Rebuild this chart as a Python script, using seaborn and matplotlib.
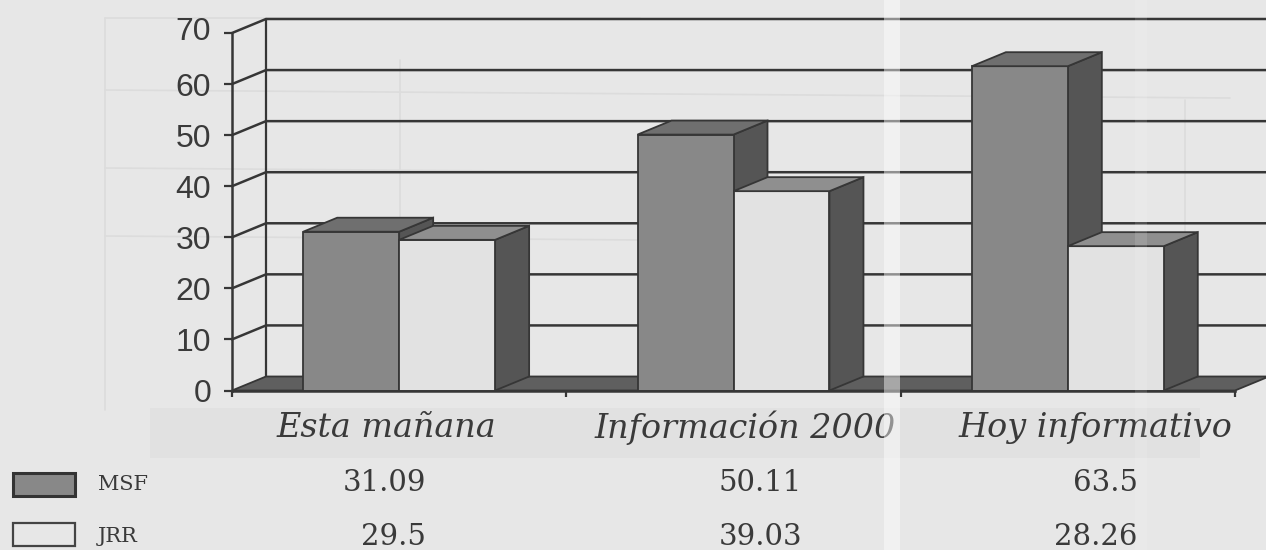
import pandas as pd
import seaborn as sns
import matplotlib
matplotlib.use('Agg')
import matplotlib.pyplot as plt
from matplotlib.patches import Polygon, Rectangle
from matplotlib.lines import Line2D
from matplotlib.transforms import Affine2D, ScaledTranslation

# datos de la tabla
programas = ['Esta mañana', 'Información 2000', 'Hoy informativo']
msf = [31.09, 50.11, 63.5]
jrr = [29.5, 39.03, 28.26]
msf_txt = ['31.09', '50.11', '63.5']
jrr_txt = ['29.5', '39.03', '28.26']
yticks = [0, 10, 20, 30, 40, 50, 60, 70]

PAPER = '#e7e7e7'
LINE = '#363636'
TXT = '#3a3a3a'
W, H = 1266, 550
# caja del eje en pixeles de la imagen
LEFT, RIGHT, TOP, BOTTOM = 232, 1235, 33, 390.5

sns.set_theme(style='white')
plt.rcParams['font.family'] = ['Liberation Sans', 'DejaVu Sans']

df = pd.DataFrame({
    'programa': programas * 2,
    'serie': ['MSF'] * 3 + ['JRR'] * 3,
    'valor': msf + jrr,
})

fig = plt.figure(figsize=(W / 100, H / 100), dpi=100, facecolor=PAPER)
ax = fig.add_axes([LEFT / W, 1 - BOTTOM / H, (RIGHT - LEFT) / W, (BOTTOM - TOP) / H])
ax.patch.set_alpha(0)
pix = Affine2D().scale(1 / W, -1 / H).translate(0, 1) + fig.transFigure

# papel: sombra del reverso de la pagina
fig.add_artist(Rectangle((150, 408), 1050, 50, transform=pix, color='#e1e1e1', lw=0, zorder=-2))
for x0, y0, x1, y1 in [(105, 18, 105, 410), (105, 18, 640, 18), (105, 90, 1230, 98), (105, 168, 640, 172),
                       (105, 236, 640, 240), (1185, 100, 1185, 330), (400, 60, 400, 240)]:
    fig.add_artist(Line2D([x0, x1], [y0, y1], transform=pix, color='#dcdcdc', lw=1.2, zorder=-1))

sns.barplot(data=df, x='programa', y='valor', hue='serie', order=programas, hue_order=['MSF', 'JRR'],
            palette={'MSF': '#888888', 'JRR': '#e2e2e2'}, saturation=1, width=0.574, gap=0,
            edgecolor=LINE, linewidth=1.3, legend=False, ax=ax, zorder=5)

ax.set_xlim(-0.5, 2.5)
ax.set_ylim(0, 70)
ax.set_xlabel('')
ax.set_ylabel('')

# profundidad del efecto 3D, pasada a unidades de los datos
dx = 34 * 3 / (RIGHT - LEFT)
dy = 14 * 70 / (BOTTOM - TOP)

# paredes y suelo
ax.add_patch(Polygon([(-0.5, 0), (-0.5 + dx, dy), (2.5 + dx, dy), (2.5, 0)], closed=True, facecolor='#5f5f5f',
                     edgecolor=LINE, lw=1.3, clip_on=False, zorder=2))
for v in yticks[1:]:
    ax.plot([-0.5, -0.5 + dx, 2.5 + dx * 2], [v, v + dy, v + dy], color=LINE, lw=1.8, clip_on=False, zorder=1)
ax.plot([-0.5 + dx, -0.5 + dx], [dy, 70 + dy], color=LINE, lw=1.6, clip_on=False, zorder=1)

# caras lateral y superior de cada barra, de izquierda a derecha
barras = sorted([p for p in ax.patches if isinstance(p, Rectangle)], key=lambda p: p.get_x())
for i, p in enumerate(barras):
    x0, x1, h = p.get_x(), p.get_x() + p.get_width(), p.get_height()
    tapa = '#6f6f6f' if i % 2 == 0 else '#8f8f8f'
    p.set_zorder(5 + i)
    ax.add_patch(Polygon([(x1, 0), (x1 + dx, dy), (x1 + dx, h + dy), (x1, h)], closed=True, facecolor='#555555',
                         edgecolor=LINE, lw=1.3, zorder=4.9 + i, clip_on=False))
    ax.add_patch(Polygon([(x0, h), (x0 + dx, h + dy), (x1 + dx, h + dy), (x1, h)], closed=True, facecolor=tapa,
                         edgecolor=LINE, lw=1.3, zorder=5 + i, clip_on=False))

ax.set_yticks(yticks)
ax.set_xticks([-0.5, 0.5, 1.5, 2.5])
ax.set_xticklabels([])
ax.tick_params(axis='y', length=6, width=1.6, color=LINE, labelcolor=TXT, labelsize=23, pad=9, left=True)
ax.tick_params(axis='x', length=4, width=1.6, color=LINE, bottom=True, direction='out')
sns.despine(ax=ax, top=True, right=True)
for s in ['left', 'bottom']:
    ax.spines[s].set_color(LINE)
    ax.spines[s].set_linewidth(1.8)
    ax.spines[s].set_zorder(30)

# el 70 va un poco mas arriba que su marca
etiqueta = ax.get_yticklabels()[-1]
etiqueta.set_transform(etiqueta.get_transform() + ScaledTranslation(0, 5 / 100, fig.dpi_scale_trans))

# etiquetas de categoria y tabla
serif = ['DejaVu Serif']
for nombre, cx in zip(programas, [386, 745, 1095]):
    fig.text(cx, 428, nombre, transform=pix, ha='center', va='center', family=serif, style='italic',
             fontsize=24, color=TXT)
for a, b, xr in zip(msf_txt, jrr_txt, [426, 802, 1138]):
    fig.text(xr, 483, a, transform=pix, ha='right', va='center', family=serif, fontsize=21, color=TXT)
    fig.text(xr, 537, b, transform=pix, ha='right', va='center', family=serif, fontsize=21, color=TXT)

# leyenda
fig.add_artist(Rectangle((13, 473), 62, 23, transform=pix, facecolor='#888888', edgecolor='#333333', lw=2.2))
fig.add_artist(Rectangle((13, 523), 62, 23, transform=pix, facecolor=PAPER, edgecolor='#444444', lw=1.6))
fig.text(98, 484, 'MSF', transform=pix, va='center', family=serif, fontsize=15, color=TXT)
fig.text(98, 536, 'JRR', transform=pix, va='center', family=serif, fontsize=15, color=TXT)

# banda clara del pliegue del escaneado
fig.add_artist(Rectangle((884, 0), 16, H, transform=pix, color='white', alpha=0.45, lw=0, zorder=40))
fig.add_artist(Rectangle((1135, 0), 12, H, transform=pix, color='white', alpha=0.12, lw=0, zorder=40))

fig.savefig('out.png', dpi=100, facecolor=PAPER)
